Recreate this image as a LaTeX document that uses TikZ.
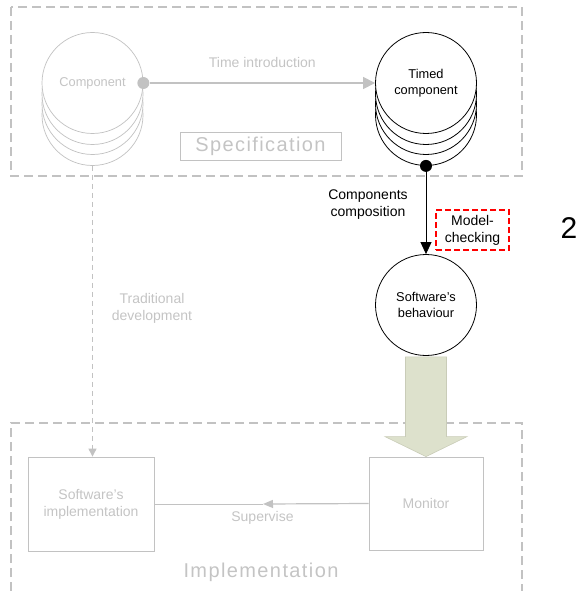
\documentclass[tikz,border=0pt]{standalone}
\usepackage{fontspec}
\setmainfont{Liberation Sans}
\newfontfamily\spacedfont[LetterSpace=7]{Liberation Sans}
\usetikzlibrary{arrows.meta,calc}

\definecolor{paletext}{HTML}{C4C4C4}
\definecolor{frameline}{HTML}{C2C2C2}
\definecolor{arrowfill}{HTML}{DDE1CC}
\definecolor{arrowedge}{HTML}{C9CCB8}

\begin{document}
\begin{tikzpicture}[x=1pt,y=-1pt,
  every node/.style={font=\fontsize{14}{17}\selectfont},
  region/.style={draw=frameline, line width=1.3pt, dash pattern=on 9pt off 5pt},
  greydisc/.style={circle, draw=frameline, fill=white, line width=0.7pt,
    minimum size=101pt, inner sep=0pt, text=paletext, align=center,
    font=\fontsize{12.8}{15.5}\selectfont},
  blackdisc/.style={circle, draw=black, fill=white, line width=0.8pt,
    minimum size=101pt, inner sep=0pt, align=center,
    font=\fontsize{12.8}{15.5}\selectfont},
  greybox/.style={draw=frameline, line width=0.8pt, text=paletext,
    align=center, inner sep=0pt},
  dotmark/.style={circle, inner sep=0pt, minimum size=12pt},
  paleline/.style={draw=frameline, line width=1.2pt},
  palelabel/.style={text=paletext, align=center},
  spacedlabel/.style={text=paletext, font=\spacedfont\fontsize{20}{24}\selectfont}
]
\useasboundingbox (0,0) rectangle (581,591);

% specification and implementation regions
\draw[region] (11,7) rectangle (522,176);
\draw[region] (11,591) -- (11,423) -- (522,423) -- (522,591);

% untimed component stack
\foreach \i/\dy in {3/32,2/21,1/11}
  \node[greydisc] (comp\i) at (92.5,83+\dy) {};
\node[greydisc] (comp) at (92.5,83) {Component};
\node[dotmark, fill=frameline] (compdot) at (comp.east) {};

% timed component stack
\foreach \i/\dy in {3/32,2/21,1/11}
  \node[blackdisc] (timed\i) at (426,83+\dy) {};
\node[blackdisc] (timed) at (426,83) {Timed\\component};

% time introduction
\draw[paleline, -{Triangle[length=12pt,width=12pt]}] (compdot) -- (timed.west)
  node[midway, above=11pt, palelabel] {Time introduction};

\node[greybox, minimum width=161pt, minimum height=28pt,
  font=\spacedfont\fontsize{20}{24}\selectfont] (spec) at (260.5,146) {Specification};

% composition of the timed components
\node[blackdisc] (behav) at (426,305) {Software’s\\behaviour};
\draw[line width=0.8pt, -{Triangle[length=12pt,width=11pt]}] (timed3.south) -- (behav.north);
\node[dotmark, fill=black] (timeddot) at (timed3.south) {};
\node[align=center] (complabel) at (368,205) {Components\\composition};
\node[draw=red, line width=1.3pt, dash pattern=on 6pt off 3pt, align=center,
  minimum width=73pt, minimum height=40pt, inner sep=0pt] (mc) at (472.5,230) {Model-\\checking};
\node[font=\fontsize{30}{36}\selectfont] (num) at (569,228) {2};

% implementation level
\node[greybox, minimum width=114pt, minimum height=93pt] (mon) at (426,503.5) {Monitor};
\node[greybox, minimum width=126pt, minimum height=94pt] (impl) at (91,504) {Software’s\\implementation};

% monitor synthesis arrow
\fill[arrowfill, draw=arrowedge, line width=0.6pt]
  ($(behav.south)+(-20.5,1)$) -- ($(behav.south)+(20.5,1)$) --
  ($(mon.north)+(20.5,-20)$) -- ($(mon.north)+(41,-20)$) --
  (mon.north) --
  ($(mon.north)+(-41,-20)$) -- ($(mon.north)+(-20.5,-20)$) -- cycle;

% traditional development
\draw[draw=frameline, line width=0.9pt, dash pattern=on 5pt off 4pt,
  -{Triangle[length=8pt,width=8pt]}] (comp3.south) -- (comp3.south |- impl.north);
\node[palelabel] (tradlabel) at (152,308) {Traditional\\development};

% supervision
\coordinate (suptip) at (263,504);
\draw[paleline, -{Triangle[length=10pt,width=8pt]}] (mon.west) -- (suptip);
\draw[draw=frameline, line width=0.8pt] (suptip) -- (impl.east);
\node[palelabel] (suplabel) at (262.5,518) {Supervise};

\node[spacedlabel] (implabel) at (261,572) {Implementation};
\end{tikzpicture}
\end{document}
